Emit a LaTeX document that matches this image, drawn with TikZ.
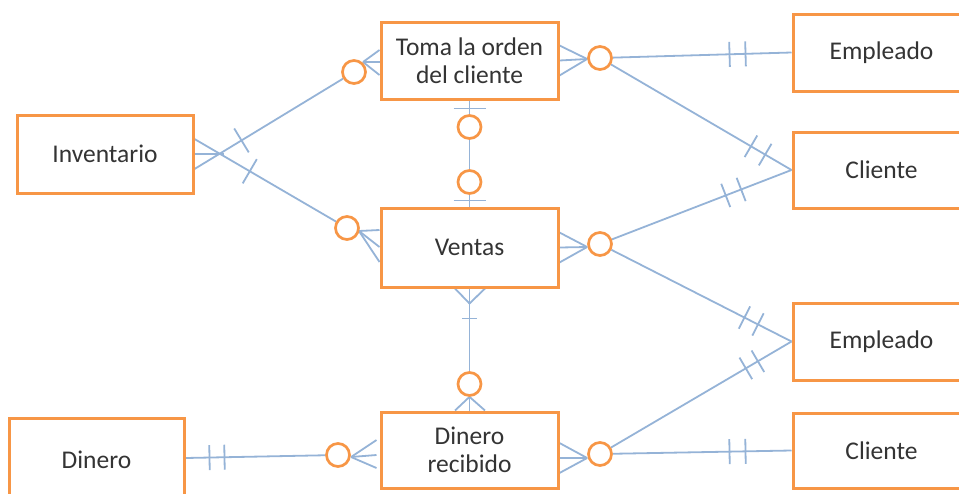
\documentclass[tikz,border=0pt]{standalone}
\usepackage{fontspec}
\setmainfont{Carlito}
\usetikzlibrary{calc,decorations.markings,backgrounds}

\definecolor{orng}{RGB}{247,150,70}
\definecolor{blu}{RGB}{149,179,215}
\definecolor{txt}{RGB}{52,52,52}

\tikzset{
  entity/.style={draw=orng, fill=white, line width=3pt, minimum width=177pt,
    minimum height=77pt, inner sep=0pt, align=center, text=txt,
    font=\fontsize{25.5}{28}\selectfont},
  ring/.style={circle, draw=orng, fill=white, line width=2.7pt,
    minimum size=23pt, inner sep=0pt},
  rel/.style={draw=blu, line width=1.8pt},
  onebar/.style={postaction={decorate, decoration={markings,
    mark=at position #1 with {\draw[rel] (0,-14pt) -- (0,14pt);}}}},
  twobar/.style 2 args={postaction={decorate, decoration={markings,
    mark=at position #1 with {\draw[rel] (0,-12.5pt) -- (0,12.5pt);},
    mark=at position #2 with {\draw[rel] (0,-12.5pt) -- (0,12.5pt);}}}}
}

\begin{document}
\begin{tikzpicture}[x=1pt, y=-1pt]
\useasboundingbox (0,0) rectangle (959,493);
\clip (0,0) rectangle (959,493);

% entities
\node[entity] (toma) at (469.5,60.5) {Toma la orden\\del cliente};
\node[entity, minimum height=79pt] (ventas) at (469.5,247.5) {Ventas};
\node[entity, minimum height=76pt] (dinrec) at (469.5,450) {Dinero\\recibido};
\node[entity, minimum width=176pt, minimum height=78pt] (inv) at (105,154) {Inventario};
\node[entity, minimum width=175pt, minimum height=84pt] (dinero) at (96.5,460) {Dinero};
\node[entity] (emp1) at (881.5,52.5) {Empleado};
\node[entity, minimum height=76pt] (cli1) at (881.5,170) {Cliente};
\node[entity] (emp2) at (881.5,341.5) {Empleado};
\node[entity, minimum height=75pt] (cli2) at (881.5,450.5) {Cliente};

% optional-participation rings
\node[ring] (ct-l) at (354,72) {};
\node[ring] (ct-r) at (600,58) {};
\node[ring] (ct-b) at (469.5,127) {};
\node[ring] (cv-t) at (469.5,182) {};
\node[ring] (cv-l) at (347,228) {};
\node[ring] (cv-r) at (600,244) {};
\node[ring] (cd-t) at (469.5,384) {};
\node[ring] (cd-l) at (338,455) {};
\node[ring] (cd-r) at (600,454) {};

% crow's-foot meeting points
\coordinate (f-tl) at ($(ct-l)+(9,-10)$);
\coordinate (f-tr) at ($(ct-r.west)+(0,1)$);
\coordinate (f-vl) at ($(cv-l)+(12,3)$);
\coordinate (f-vr) at ($(cv-r.west)+(0,3)$);
\coordinate (f-vb) at ($(ventas.south)+(0,15)$);
\coordinate (f-dt) at (cd-t.south);
\coordinate (f-dl) at ($(cd-l)+(13,2)$);
\coordinate (f-dr) at ($(cd-r.west)+(0,4)$);

\begin{scope}[on background layer]
% Inventario
\draw[rel, onebar=55pt] ($(inv.east)+(0,15)$) -- (ct-l);
\draw[rel, onebar=64pt] ($(inv.east)+(0,-15)$) -- (cv-l);
\draw[rel] (inv.east) -- +(29,0);

% Toma la orden del cliente
\foreach \d in {-10.5,1.5,14.5} \draw[rel] (f-tl) -- ($(toma.west)+(0,\d)$);
\foreach \d in {-15,0,15} \draw[rel] (f-tr) -- ($(toma.east)+(0,\d)$);
\draw[rel] (toma.south) -- (ct-b.north);
\draw[rel] ($(toma.south)+(-16,8)$) -- ++(32,0);
\draw[rel] (ct-b.south) -- (cv-t.north);
\draw[rel] (cv-t.south) -- (ventas.north);
\draw[rel] ($(ventas.north)+(-16,-6)$) -- ++(32,0);

% Ventas
\foreach \d in {-17.5,-0.5,14.5} \draw[rel] (f-vl) -- ($(ventas.west)+(0,\d)$);
\foreach \d in {-15,0,15} \draw[rel] (f-vr) -- ($(ventas.east)+(0,\d)$);
\foreach \d in {-14.5,0,15.5} \draw[rel] (f-vb) -- ($(ventas.south)+(\d,0)$);
\draw[rel] (f-vb) -- (cd-t.north);
\draw[rel] ($(f-vb)+(-7.5,15)$) -- ++(15,0);

% Dinero recibido
\foreach \d in {-14.5,0,15.5} \draw[rel] (f-dt) -- ($(dinrec.north)+(\d,0)$);
\foreach \d in {-10,5,18} \draw[rel] (f-dl) -- ($(dinrec.west)+(-3,\d)$);
\foreach \d in {-7,8,23} \draw[rel] (f-dr) -- ($(dinrec.east)+(0,\d)$);
\draw[rel, twobar={24pt}{39pt}] ($(dinero.east)+(0,-2)$) -- (cd-l);

% links to Empleado / Cliente
\draw[rel, twobar={46pt}{62pt}] (emp1.west) -- (ct-r);
\draw[rel, twobar={30.5pt}{47pt}] (cli1.west) -- (ct-r);
\draw[rel, twobar={54pt}{70.5pt}] (cli1.west) -- (cv-r);
\draw[rel, twobar={37.6pt}{52.8pt}] (emp2.west) -- (cv-r);
\draw[rel, twobar={39pt}{53pt}] (emp2.west) -- (cd-r);
\draw[rel, twobar={46pt}{62pt}] (cli2.west) -- (cd-r);
\end{scope}
\end{tikzpicture}
\end{document}
